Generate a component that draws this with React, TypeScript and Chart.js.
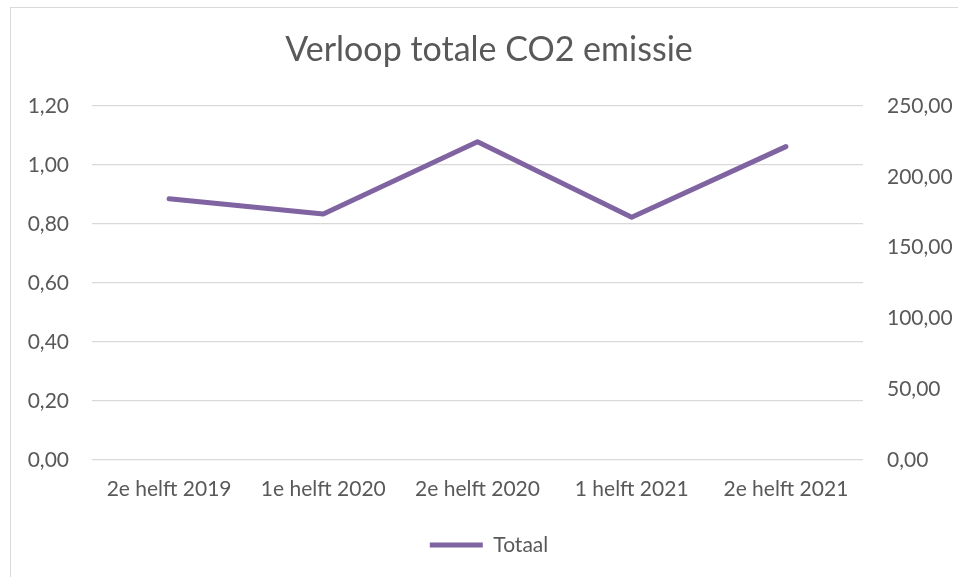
import React, { useEffect, useRef } from "react";
import { Chart, registerables } from "chart.js";

Chart.register(...registerables);

const categories = ["2e helft 2019", "1e helft 2020", "2e helft 2020", "1 helft 2021", "2e helft 2021"];
const totaal = [184.5, 173.7, 224.8, 171.4, 221.3];
const leftTicks = { min: 0, max: 1.2, step: 0.2 };
const rightTicks = { min: 0, max: 250, step: 50 };

const FONT = "Lato, 'Open Sans', sans-serif";
const TXT = "#595959";

export default function App() {
  const ref = useRef<HTMLCanvasElement | null>(null);
  useEffect(() => {
    if (!ref.current) return;
    const fmt = (v: any) => Number(v).toFixed(2).replace(".", ",");
    const chart = new Chart(ref.current, {
      type: "line",
      data: {
        labels: categories,
        datasets: [
          {
            label: "Totaal",
            data: totaal,
            yAxisID: "y1",
            borderColor: "#8064A2",
            backgroundColor: "#8064A2",
            borderWidth: 5,
            borderCapStyle: "round",
            borderJoinStyle: "round",
            pointRadius: 0,
            tension: 0,
          },
        ],
      },
      options: {
        animation: false,
        responsive: false,
        maintainAspectRatio: false,
        layout: { padding: { left: 20, right: 0, top: 0, bottom: 11.5 } },
        plugins: {
          title: {
            display: true,
            text: "Verloop totale CO2 emissie",
            color: TXT,
            font: { family: FONT, size: 34, weight: "normal" },
            padding: { top: 29.5, bottom: 35.7 },
          },
          legend: {
            position: "bottom",
            labels: {
              usePointStyle: true,
              pointStyle: "line",
              pointStyleWidth: 53,
              color: TXT,
              font: { family: FONT, size: 21 },
            },
          },
          tooltip: { enabled: false },
        },
        scales: {
          x: {
            offset: true,
            grid: { display: false, drawTicks: false },
            border: { display: false },
            ticks: { color: TXT, font: { family: FONT, size: 21 }, padding: 17, maxRotation: 0 },
            afterFit: (s: any) => { s.height = 64.5; },
          },
          y: {
            position: "left",
            min: leftTicks.min,
            max: leftTicks.max,
            grid: { color: "#d9d9d9", lineWidth: 1.3, drawTicks: false },
            border: { display: false },
            ticks: { stepSize: leftTicks.step, color: TXT, font: { family: FONT, size: 21 }, padding: 23, callback: fmt },
            afterFit: (s: any) => { s.width = 72; },
          },
          y1: {
            position: "right",
            min: rightTicks.min,
            max: rightTicks.max,
            grid: { display: false, drawTicks: false },
            border: { display: false },
            ticks: { stepSize: rightTicks.step, color: TXT, font: { family: FONT, size: 21 }, padding: 24, callback: fmt },
            afterFit: (s: any) => { s.width = 95; },
          },
        },
      },
    } as any);
    return () => chart.destroy();
  }, []);
  return (
    <div style={{ position: "absolute", left: 0, top: 0, width: 958, height: 577, overflow: "hidden", background: "#fff" }}>
      <div style={{ position: "absolute", left: 10, top: 7, width: 960, height: 600, border: "1px solid #d9d9d9", boxSizing: "border-box" }} />
      <canvas ref={ref} width={958} height={577} style={{ position: "absolute", left: 0, top: 0 }} />
    </div>
  );
}
